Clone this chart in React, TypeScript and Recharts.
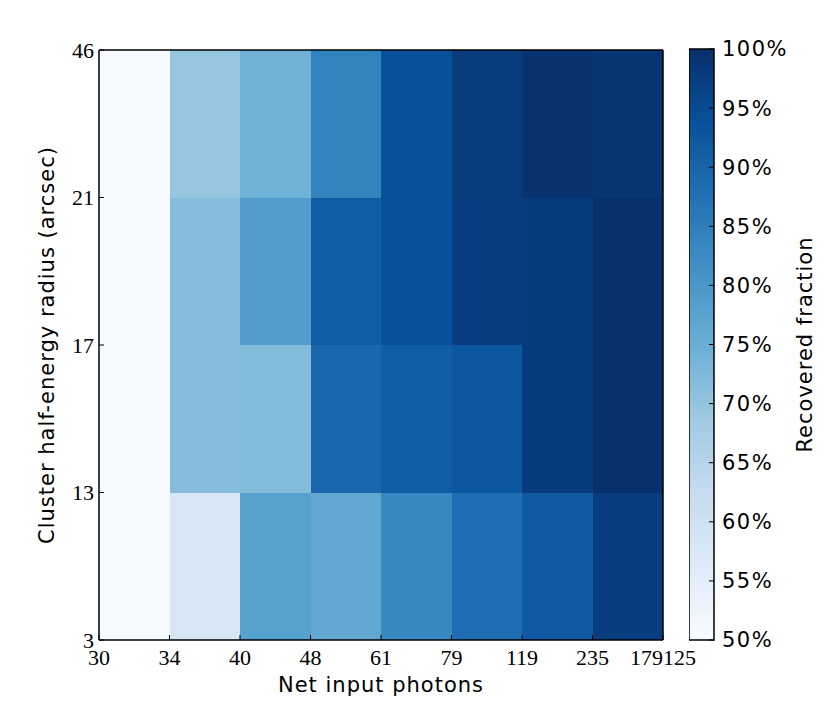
import { ComposedChart, XAxis, YAxis, ReferenceArea, Label } from 'recharts'

// bin edges shown as tick labels
const X_EDGES = ['30', '34', '40', '48', '61', '79', '119', '235', '179125']
const Y_EDGES = ['3', '13', '17', '21', '46']

// recovered fraction per cell, one array per radius bin (bottom to top)
const ROW_3_13 = [0.5, 0.583, 0.78, 0.765, 0.83, 0.88, 0.92, 0.975]
const ROW_13_17 = [0.5, 0.717, 0.72, 0.895, 0.915, 0.925, 0.98, 1.0]
const ROW_17_21 = [0.5, 0.717, 0.79, 0.915, 0.94, 0.975, 0.98, 1.0]
const ROW_21_46 = [0.5, 0.696, 0.745, 0.84, 0.94, 0.977, 0.995, 0.99]
const ROWS = [ROW_3_13, ROW_13_17, ROW_17_21, ROW_21_46]

const CBAR_TICKS = [0.5, 0.55, 0.6, 0.65, 0.7, 0.75, 0.8, 0.85, 0.9, 0.95, 1.0]
const VMIN = 0.5
const VMAX = 1.0

// matplotlib "Blues"
const BLUES = ['#f7fbff', '#deebf7', '#c6dbef', '#9ecae1', '#6baed6', '#4292c6', '#2171b5', '#08519c', '#08306b']

const rgb = (h: string) => [1, 3, 5].map((i) => parseInt(h.slice(i, i + 2), 16))

function blues(v: number) {
  const t = Math.min(1, Math.max(0, (v - VMIN) / (VMAX - VMIN))) * (BLUES.length - 1)
  const i = Math.min(Math.floor(t), BLUES.length - 2)
  const f = t - i
  const a = rgb(BLUES[i])
  const b = rgb(BLUES[i + 1])
  const c = a.map((x, k) => Math.round(x + (b[k] - x) * f))
  return `rgb(${c[0]},${c[1]},${c[2]})`
}

const cells = ROWS.flatMap((row, r) =>
  row.map((v, c) => ({ x1: c, x2: c + 1, y1: r, y2: r + 1, v }))
)
const cbarData = CBAR_TICKS.map((v) => ({ x: 0.5, v }))

const X_TICKS = X_EDGES.map((_, i) => i)
const Y_TICKS = Y_EDGES.map((_, i) => i)

const SERIF_TICK = { fill: '#000', fontSize: 22, fontFamily: 'Liberation Serif' }
const SANS_TICK = { fill: '#000', fontSize: 21, fontFamily: 'DejaVu Sans', letterSpacing: 1.5 }
const LABEL_STYLE = { fill: '#000', fontSize: 21, fontFamily: 'DejaVu Sans', letterSpacing: 1, textAnchor: 'middle' as const }
const FRAME = { stroke: '#000', strokeWidth: 1.5 }
const TICK_LINE = { stroke: '#000', strokeWidth: 1 }

export default function App() {
  return (
    <div style={{ position: 'absolute', left: 0, top: 0, width: 830, height: 712, background: '#fff' }}>
      <div style={{ position: 'absolute', left: 0, top: 0 }}>
        <ComposedChart width={700} height={712} data={cells} margin={{ top: 49, right: 36, left: 0, bottom: 12 }}>
          {cells.map((d, i) => (
            <ReferenceArea
              key={i}
              x1={d.x1}
              x2={d.x2}
              y1={d.y1}
              y2={d.y2}
              fill={blues(d.v)}
              fillOpacity={1}
              stroke="none"
              shapeRendering="crispEdges"
              ifOverflow="visible"
            />
          ))}
          <XAxis
            dataKey="x1"
            type="number"
            domain={[0, 8]}
            ticks={X_TICKS}
            interval={0}
            allowDataOverflow
            tickFormatter={(i: number) => X_EDGES[i]}
            height={60}
            tickSize={-5}
            tickMargin={14}
            axisLine={FRAME}
            tickLine={TICK_LINE}
            tick={SERIF_TICK}
          >
            <Label value="Net input photons" position="insideBottom" offset={8} style={LABEL_STYLE} />
          </XAxis>
          <YAxis
            dataKey="y1"
            type="number"
            domain={[0, 4]}
            ticks={Y_TICKS}
            interval={0}
            allowDataOverflow
            tickFormatter={(i: number) => Y_EDGES[i]}
            width={99}
            tickSize={-5}
            tickMargin={10}
            axisLine={FRAME}
            tickLine={TICK_LINE}
            tick={SERIF_TICK}
          >
            <Label
              value="Cluster half-energy radius (arcsec)"
              angle={-90}
              position="insideLeft"
              offset={47}
              style={LABEL_STYLE}
            />
          </YAxis>
          <XAxis
            xAxisId="top"
            dataKey="x1"
            orientation="top"
            type="number"
            domain={[0, 8]}
            ticks={X_TICKS}
            interval={0}
            allowDataOverflow
            height={1}
            tick={false}
            tickSize={-5}
            axisLine={FRAME}
            tickLine={TICK_LINE}
          />
          <YAxis
            yAxisId="right"
            dataKey="y1"
            orientation="right"
            type="number"
            domain={[0, 4]}
            ticks={Y_TICKS}
            interval={0}
            allowDataOverflow
            width={1}
            tick={false}
            tickSize={-5}
            axisLine={FRAME}
            tickLine={TICK_LINE}
          />
        </ComposedChart>
      </div>

      <div style={{ position: 'absolute', left: 689, top: 0 }}>
        <ComposedChart width={141} height={712} data={cbarData} margin={{ top: 49, right: 0, left: 0, bottom: 72 }}>
          <defs>
            <linearGradient id="cbar" x1="0" y1="1" x2="0" y2="0">
              {BLUES.map((c, i) => (
                <stop key={i} offset={`${(i / (BLUES.length - 1)) * 100}%`} stopColor={c} />
              ))}
            </linearGradient>
          </defs>
          <ReferenceArea
            x1={0}
            x2={1}
            y1={VMIN}
            y2={VMAX}
            fill="url(#cbar)"
            fillOpacity={1}
            stroke="#000"
            strokeWidth={1.5}
            ifOverflow="visible"
          />
          <XAxis dataKey="x" type="number" domain={[0, 1]} hide />
          <YAxis
            dataKey="v"
            orientation="right"
            type="number"
            domain={[VMIN, VMAX]}
            ticks={CBAR_TICKS}
            interval={0}
            allowDataOverflow
            tickFormatter={(v: number) => `${Math.round(v * 100)}%`}
            width={116}
            tickSize={-5}
            tickMargin={13}
            axisLine={false}
            tickLine={TICK_LINE}
            tick={SANS_TICK}
          >
            <Label value="Recovered fraction" angle={-90} position="insideRight" offset={25} style={LABEL_STYLE} />
          </YAxis>
        </ComposedChart>
      </div>
    </div>
  )
}
